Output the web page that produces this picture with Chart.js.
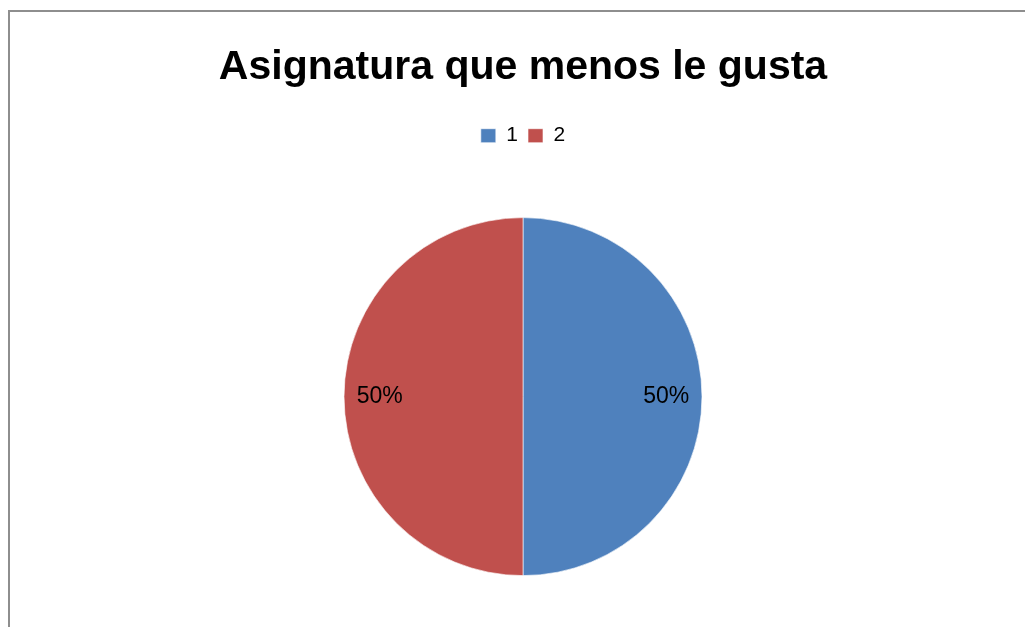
<!DOCTYPE html>
<html>
<head>
<meta charset="utf-8">
<script src="https://cdn.jsdelivr.net/npm/chart.js@4.4.0/dist/chart.umd.min.js"></script>
<style>
    html, body { margin: 0; padding: 0; background: #fff; overflow: hidden; }
    #frame {
        position: absolute; left: 8px; top: 10px;
        width: 1030px; height: 630px;
        border-left: 2px solid #8e8e8e; border-top: 2px solid #8e8e8e;
    }
    #wrap { position: absolute; left: 10px; top: 12px; width: 1026px; height: 625px; }
</style>
</head>
<body>
<div id="frame"></div>
<div id="wrap"><canvas id="pie"></canvas></div>
<script>
// datos del gráfico
const titulo = 'Asignatura que menos le gusta';
const categorias = ['1', '2'];
const valores = [50, 50];
const colores = ['#4F81BD', '#C0504D'];

// etiquetas de porcentaje dentro de cada sector
const etiquetasPct = {
    id: 'etiquetasPct',
    afterDatasetsDraw(chart) {
        const ctx = chart.ctx;
        const meta = chart.getDatasetMeta(0);
        const total = valores.reduce((s, v) => s + v, 0);
        ctx.save();
        ctx.font = '23px "Liberation Sans", Arial, sans-serif';
        ctx.fillStyle = '#000';
        ctx.textAlign = 'center';
        ctx.textBaseline = 'middle';
        meta.data.forEach((arc, i) => {
            const p = arc.getProps(['x', 'y', 'startAngle', 'endAngle', 'outerRadius'], true);
            const mid = (p.startAngle + p.endAngle) / 2;
            const r = p.outerRadius * 0.8;
            const txt = Math.round(valores[i] / total * 100) + '%';
            ctx.fillText(txt, p.x + Math.cos(mid) * r, p.y + Math.sin(mid) * r);
        });
        ctx.restore();
    }
};

new Chart(document.getElementById('pie'), {
    type: 'pie',
    data: {
        labels: categorias,
        datasets: [{
            data: valores,
            backgroundColor: colores,
            borderColor: 'rgba(255,255,255,0.6)',
            borderWidth: 1,
            radius: 179
        }]
    },
    options: {
        responsive: true,
        maintainAspectRatio: false,
        animation: false,
        plugins: {
            title: {
                display: true,
                text: titulo,
                color: '#000',
                font: { family: '"Liberation Sans", Arial, sans-serif', size: 41, weight: 'bold' },
                padding: { top: 31, bottom: 23 }
            },
            legend: {
                position: 'top',
                labels: {
                    color: '#000',
                    boxWidth: 15,
                    boxHeight: 14,
                    padding: 10,
                    font: { family: '"Liberation Sans", Arial, sans-serif', size: 21 }
                }
            },
            tooltip: { enabled: false }
        }
    },
    plugins: [etiquetasPct]
});
</script>
</body>
</html>
